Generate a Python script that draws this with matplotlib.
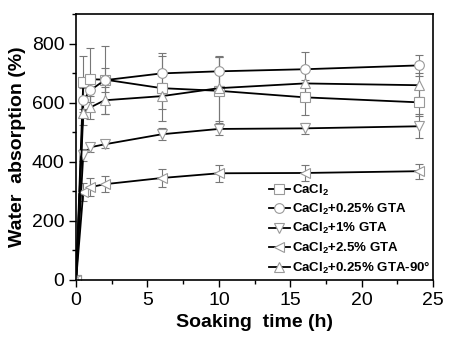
import matplotlib
matplotlib.use('Agg')
import matplotlib.pyplot as plt
from matplotlib.ticker import MultipleLocator

plt.rcParams['font.family'] = ['Liberation Sans', 'DejaVu Sans']
plt.rcParams['mathtext.fontset'] = 'custom'
plt.rcParams['mathtext.rm'] = 'Liberation Sans'
plt.rcParams['mathtext.bf'] = 'Liberation Sans:bold'

time_h = [0, 0.5, 1, 2, 6, 10, 16, 24]
labels = [r'CaCl$_\mathbf{2}$', r'CaCl$_\mathbf{2}$+0.25% GTA', r'CaCl$_\mathbf{2}$+1% GTA',
          r'CaCl$_\mathbf{2}$+2.5% GTA', r'CaCl$_\mathbf{2}$+0.25% GTA-90°']
cacl2 = [0, 669, 679, 678, 649, 640, 618, 601]
gta025 = [0, 608, 642, 676, 699, 706, 713, 726]
gta1 = [0, 422, 449, 459, 493, 511, 513, 520]
gta25 = [0, 297, 314, 324, 345, 361, 362, 368]
gta025_90 = [0, 564, 584, 608, 622, 649, 665, 659]
err_cacl2 = [0, 90, 105, 115, 110, 115, 60, 45]
err_gta025 = [0, 40, 40, 40, 68, 50, 57, 35]
err_gta1 = [0, 20, 15, 12, 20, 20, 18, 40]
err_gta25 = [0, 30, 30, 28, 30, 28, 28, 25]
err_gta025_90 = [0, 40, 40, 45, 45, 110, 60, 40]

series = [cacl2, gta025, gta1, gta25, gta025_90]
errs = [err_cacl2, err_gta025, err_gta1, err_gta25, err_gta025_90]
markers = ['s', 'o', 'v', '<', '^']

fig = plt.figure(figsize=(4.53, 3.41), dpi=100)
ax = fig.add_axes([0.168, 0.179, 0.788, 0.780])

for y, e, m, lab in zip(series, errs, markers, labels):
    ax.errorbar(time_h, y, yerr=e, fmt='none', ecolor='#777777', elinewidth=0.8,
                capsize=3, capthick=0.8, zorder=1)
    ax.plot(time_h, y, color='black', lw=1.3, marker=m, markersize=7,
            markerfacecolor='white', markeredgecolor='#999999', markeredgewidth=0.8,
            label=lab, zorder=2)

ax.set_xlim(0, 25)
ax.set_ylim(0, 900)
ax.xaxis.set_major_locator(MultipleLocator(5))
ax.xaxis.set_minor_locator(MultipleLocator(2.5))
ax.yaxis.set_major_locator(MultipleLocator(200))
ax.yaxis.set_minor_locator(MultipleLocator(100))
ax.set_yticks([0, 200, 400, 600, 800])
ax.tick_params(axis='both', which='major', labelsize=14, direction='out', length=5, width=1)
ax.tick_params(axis='both', which='minor', direction='out', length=3, width=1)
for s in ax.spines.values():
    s.set_linewidth(1.2)

ax.set_xlabel('Soaking  time (h)', fontsize=14, fontweight='bold')
ax.set_ylabel('Water  absorption (%)', fontsize=14, fontweight='bold')

leg = ax.legend(loc='lower right', frameon=False, prop={'weight': 'bold', 'size': 9.5},
                handlelength=1.6, handletextpad=0.2, labelspacing=0.32,
                bbox_to_anchor=(1.02, -0.02), markerscale=1.0, borderaxespad=0.3)

fig.savefig('out.png', dpi=100)
